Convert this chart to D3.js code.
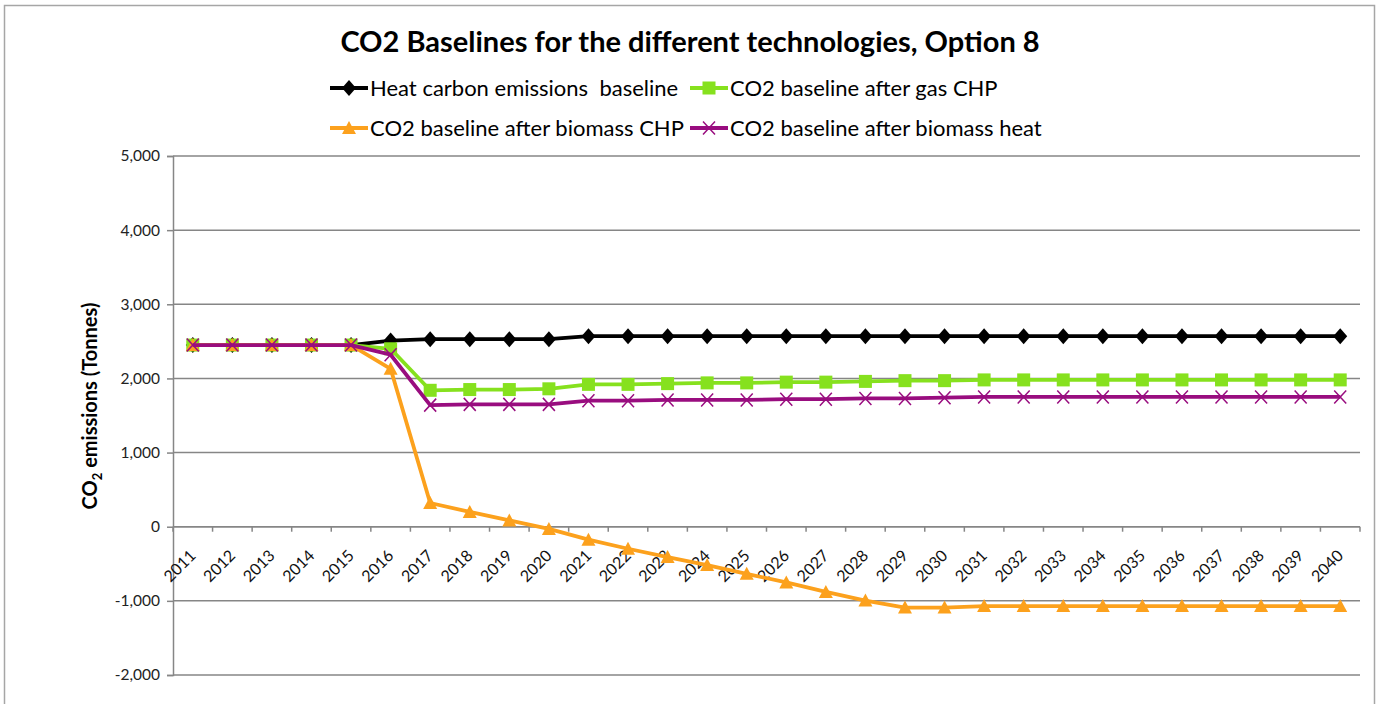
<!DOCTYPE html>
<html>
<head>
<meta charset="utf-8">
<script src="https://cdn.jsdelivr.net/npm/d3@7"></script>
<style>
  body { margin: 0; background: #fff; }
  svg text { font-family: Lato, "Open Sans", sans-serif; white-space: pre; }
</style>
</head>
<body>
<script>
const width = 1379,
    height = 704;

// data
const years = d3.range(2011, 2041).map(String);
const heatBaseline = [2450, 2450, 2450, 2450, 2450, 2510, 2530, 2530, 2530, 2530,
    2570, 2570, 2570, 2570, 2570, 2570, 2570, 2570, 2570, 2570,
    2570, 2570, 2570, 2570, 2570, 2570, 2570, 2570, 2570, 2570];
const afterGasChp = [2450, 2450, 2450, 2450, 2450, 2400, 1840, 1850, 1850, 1860,
    1920, 1920, 1930, 1940, 1940, 1950, 1950, 1960, 1970, 1970,
    1980, 1980, 1980, 1980, 1980, 1980, 1980, 1980, 1980, 1980];
const afterBiomassChp = [2450, 2450, 2450, 2450, 2450, 2130, 320, 200, 85, -30,
    -175, -297, -410, -518, -635, -752, -880, -996, -1090, -1090,
    -1070, -1070, -1070, -1070, -1070, -1070, -1070, -1070, -1070, -1070];
const afterBiomassHeat = [2450, 2450, 2450, 2450, 2450, 2320, 1640, 1650, 1650, 1650,
    1700, 1700, 1710, 1710, 1710, 1720, 1720, 1730, 1730, 1740,
    1750, 1750, 1750, 1750, 1750, 1750, 1750, 1750, 1750, 1750];
const yTicks = [-2000, -1000, 0, 1000, 2000, 3000, 4000, 5000];

const series = [
    { name: "Heat carbon emissions  baseline", values: heatBaseline, color: "#000000", marker: "diamond" },
    { name: "CO2 baseline after gas CHP", values: afterGasChp, color: "#86e11e", marker: "square" },
    { name: "CO2 baseline after biomass CHP", values: afterBiomassChp, color: "#fca11d", marker: "triangle" },
    { name: "CO2 baseline after biomass heat", values: afterBiomassHeat, color: "#990d7f", marker: "cross" }
];

const plot = { left: 173, right: 1360, top: 156, bottom: 675 };

const svg = d3.select("body").append("svg")
    .attr("width", width)
    .attr("height", height);

// chart border
svg.append("rect")
    .attr("x", 4.5).attr("y", 5.5)
    .attr("width", 1370).attr("height", 720)
    .attr("fill", "none")
    .attr("stroke", "#a6a6a6")
    .attr("stroke-width", 1.5);

const x = d3.scaleBand()
    .domain(years)
    .range([plot.left, plot.right]);

const y = d3.scaleLinear()
    .domain([-2000, 5000])
    .range([plot.bottom, plot.top]);

// gridlines
svg.append("g")
    .selectAll("line")
    .data(yTicks)
    .enter().append("line")
    .attr("x1", plot.left).attr("x2", plot.right)
    .attr("y1", d => y(d)).attr("y2", d => y(d))
    .attr("stroke", "#868686")
    .attr("stroke-width", 1.5);

// y axis
const yAxis = svg.append("g")
    .attr("transform", `translate(${plot.left},0)`)
    .call(d3.axisLeft(y).tickValues(yTicks).tickSize(6).tickPadding(7)
        .tickFormat(d => d3.format(",")(d).replace("\u2212", "-")));
yAxis.select(".domain").attr("stroke", "#868686").attr("stroke-width", 1.5);
yAxis.selectAll(".tick line").attr("stroke", "#868686").attr("stroke-width", 1.5);
yAxis.selectAll("text")
    .attr("font-size", 15.5)
    .attr("fill", "#222")
    .style("font-family", "Lato, sans-serif");

// x axis at zero, ticks between categories
const xAxisG = svg.append("g");
xAxisG.append("line")
    .attr("x1", plot.left).attr("x2", plot.right)
    .attr("y1", y(0)).attr("y2", y(0))
    .attr("stroke", "#868686")
    .attr("stroke-width", 1.5);
xAxisG.selectAll(".xtick")
    .data(years.concat(["end"]))
    .enter().append("line")
    .attr("class", "xtick")
    .attr("x1", (d, i) => plot.left + i * x.step())
    .attr("x2", (d, i) => plot.left + i * x.step())
    .attr("y1", y(0)).attr("y2", y(0) + 5)
    .attr("stroke", "#868686")
    .attr("stroke-width", 1.5);
xAxisG.selectAll(".xlabel")
    .data(years)
    .enter().append("text")
    .attr("class", "xlabel")
    .attr("text-anchor", "end")
    .attr("font-size", 16)
    .attr("fill", "#111")
    .attr("transform", d => `translate(${x(d) + x.bandwidth() / 2 + 4},${y(0) + 30}) rotate(-45)`)
    .text(d => d);

// y axis title
svg.append("text")
    .attr("transform", "translate(97,406) rotate(-90)")
    .attr("text-anchor", "middle")
    .attr("font-size", 20)
    .attr("font-weight", "bold")
    .call(t => {
        t.append("tspan").text("CO");
        t.append("tspan").attr("font-size", 13).attr("dy", 5).text("2");
        t.append("tspan").attr("dy", -5).text(" emissions (Tonnes)");
    });

// title
svg.append("text")
    .attr("x", 690).attr("y", 52)
    .attr("text-anchor", "middle")
    .attr("font-size", 29)
    .attr("font-weight", "bold")
    .text("CO2 Baselines for the different technologies, Option 8");

// markers
function drawMarker(g, type, color) {
    if (type === "diamond") {
        g.append("path").attr("d", "M0,-8L7,0L0,8L-7,0Z").attr("fill", color);
    } else if (type === "square") {
        g.append("rect").attr("x", -6.5).attr("y", -6.5).attr("width", 13).attr("height", 13).attr("fill", color);
    } else if (type === "triangle") {
        g.append("path").attr("d", "M0,-7L7,6L-7,6Z").attr("fill", color);
    } else {
        g.append("path").attr("d", "M-6,-6.5L6,6.5M-6,6.5L6,-6.5").attr("stroke", color).attr("stroke-width", 1.5).attr("fill", "none");
    }
}

const line = d3.line()
    .x((d, i) => x(years[i]) + x.bandwidth() / 2)
    .y(d => y(d));

series.forEach(s => {
    const g = svg.append("g");
    g.append("path")
        .datum(s.values)
        .attr("d", line)
        .attr("fill", "none")
        .attr("stroke", s.color)
        .attr("stroke-width", 3.8)
        .attr("stroke-linejoin", "round");
    s.values.forEach((v, i) => {
        const m = g.append("g")
            .attr("transform", `translate(${x(years[i]) + x.bandwidth() / 2},${y(v)})`);
        drawMarker(m, s.marker, s.color);
    });
});

// legend
const legendPos = [
    { x: 330, y: 88 },
    { x: 690, y: 88 },
    { x: 330, y: 128 },
    { x: 690, y: 128 }
];
series.forEach((s, i) => {
    const p = legendPos[i];
    const g = svg.append("g").attr("transform", `translate(${p.x},${p.y})`);
    g.append("line")
        .attr("x1", 0).attr("x2", 38)
        .attr("stroke", s.color)
        .attr("stroke-width", 3.8);
    const m = g.append("g").attr("transform", "translate(19,0)");
    drawMarker(m, s.marker, s.color);
    g.append("text")
        .attr("x", 40).attr("y", 8)
        .attr("font-size", 22)
        .attr("fill", "#000")
        .text(s.name);
});
</script>
</body>
</html>
